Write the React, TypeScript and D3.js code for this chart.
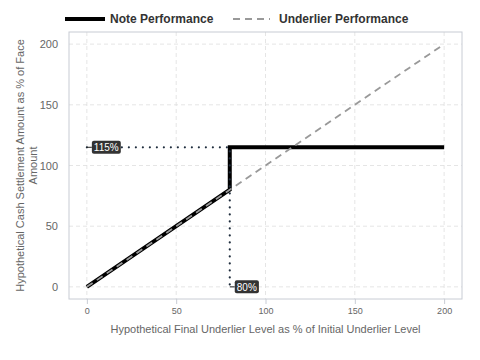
import * as d3 from "d3";
import { useEffect, useRef } from "react";

// payoff data (% of initial level -> % of face)
const noteX = [0, 80, 80, 200];
const noteY = [0, 80, 115, 115];
const underX = [0, 200];
const underY = [0, 200];
const xTicks = [0, 50, 100, 150, 200];
const yTicks = [0, 50, 100, 150, 200];
const capLevel = 115;
const barrier = 80;
const seriesNames = ["Note Performance", "Underlier Performance"];

const App = () => {
  const svgRef = useRef<SVGSVGElement>(null);

  const W = 480;
  const H = 360;
  const margin = { top: 32, right: 18, bottom: 61, left: 69 };
  const width = W - margin.left - margin.right;
  const height = H - margin.top - margin.bottom;

  useEffect(() => {
    const svg = d3.select(svgRef.current);
    svg.selectAll("*").remove();

    const font = "'Liberation Sans', Arial, sans-serif";

    const x = d3.scaleLinear().domain([-10, 210]).range([0, width]);
    const y = d3.scaleLinear().domain([-10, 210]).range([height, 0]);

    const chart = svg.append("g")
      .attr("transform", `translate(${margin.left},${margin.top})`);

    // сетка
    chart.selectAll(".vgrid")
      .data(xTicks)
      .enter()
      .append("line")
      .attr("x1", d => x(d)).attr("x2", d => x(d))
      .attr("y1", 0).attr("y2", height)
      .attr("stroke", "#dedede")
      .attr("stroke-dasharray", "4,3")
      .attr("stroke-width", 0.8);

    chart.selectAll(".hgrid")
      .data(yTicks)
      .enter()
      .append("line")
      .attr("x1", 0).attr("x2", width)
      .attr("y1", d => y(d)).attr("y2", d => y(d))
      .attr("stroke", "#dedede")
      .attr("stroke-dasharray", "4,3")
      .attr("stroke-width", 0.8);

    // рамка
    chart.append("rect")
      .attr("x", 0).attr("y", 0)
      .attr("width", width).attr("height", height)
      .attr("fill", "none")
      .attr("stroke", "#c8ccd4")
      .attr("stroke-width", 1);

    // ось x
    const xAxis = chart.append("g")
      .attr("transform", `translate(0,${height})`)
      .call(d3.axisBottom(x).tickValues(xTicks).tickSize(5).tickPadding(4));
    xAxis.select(".domain").remove();
    xAxis.selectAll("line").attr("stroke", "#c8ccd4");
    xAxis.selectAll("text")
      .style("font-size", "9px")
      .style("font-family", font)
      .style("fill", "#666");

    // ось y
    const yAxis = chart.append("g")
      .call(d3.axisLeft(y).tickValues(yTicks).tickSize(0).tickPadding(11));
    yAxis.select(".domain").remove();
    yAxis.selectAll("text")
      .style("font-size", "11px")
      .style("font-family", font)
      .style("fill", "#666");

    // подпись оси x
    chart.append("text")
      .attr("x", width / 2)
      .attr("y", height + 34)
      .attr("text-anchor", "middle")
      .style("font-size", "11px")
      .style("font-family", font)
      .style("fill", "#666")
      .text("Hypothetical Final Underlier Level as % of Initial Underlier Level");

    // подпись оси y
    const yTitle = chart.append("text")
      .attr("transform", `translate(${-45},${height / 2}) rotate(-90)`)
      .attr("text-anchor", "middle")
      .style("font-size", "11px")
      .style("font-family", font)
      .style("fill", "#666");
    yTitle.append("tspan").attr("x", 0).attr("dy", 0)
      .text("Hypothetical Cash Settlement Amount as % of Face");
    yTitle.append("tspan").attr("x", 0).attr("dy", 13).text("Amount");

    const line = d3.line<[number, number]>()
      .x(d => x(d[0]))
      .y(d => y(d[1]));

    const notePts = noteX.map((v, i) => [v, noteY[i]] as [number, number]);
    const underPts = underX.map((v, i) => [v, underY[i]] as [number, number]);

    // линия ноты
    chart.append("path")
      .attr("d", line(notePts))
      .attr("fill", "none")
      .attr("stroke", "#000")
      .attr("stroke-width", 4)
      .attr("stroke-linejoin", "miter");

    // линия базового актива
    chart.append("path")
      .attr("d", line(underPts))
      .attr("fill", "none")
      .attr("stroke", "#999")
      .attr("stroke-width", 1.8)
      .attr("stroke-dasharray", "7,5");

    // пунктирные направляющие
    chart.append("path")
      .attr("d", line([[0, capLevel], [barrier, capLevel], [barrier, 0]]))
      .attr("fill", "none")
      .attr("stroke", "#1f2d3d")
      .attr("stroke-width", 2.2)
      .attr("stroke-linecap", "round")
      .attr("stroke-dasharray", "0,7");

    // метки
    const labels = [
      { px: 0, py: capLevel, text: `${capLevel}%`, dx: 5, dy: 0 },
      { px: barrier, py: 0, text: `${barrier}%`, dx: 5, dy: 0 },
    ];
    labels.forEach(l => {
      const lx = x(l.px);
      const ly = y(l.py);
      chart.append("line")
        .attr("x1", lx).attr("x2", lx + l.dx)
        .attr("y1", ly).attr("y2", ly + l.dy)
        .attr("stroke", "#222")
        .attr("stroke-width", 1);
      const g = chart.append("g");
      const t = g.append("text")
        .attr("x", lx + l.dx + 2)
        .attr("y", ly + 4)
        .style("font-size", "10px")
        .style("font-family", font)
        .style("fill", "#fff")
        .text(l.text);
      const bb = (t.node() as SVGTextElement).getBBox();
      g.insert("rect", "text")
        .attr("x", bb.x - 2)
        .attr("y", ly - 6.5)
        .attr("width", bb.width + 4)
        .attr("height", 13)
        .attr("rx", 2)
        .attr("fill", "#333");
    });

    // легенда
    const legend = svg.append("g").attr("transform", "translate(0,19)");
    legend.append("line")
      .attr("x1", 65).attr("x2", 105)
      .attr("y1", 0).attr("y2", 0)
      .attr("stroke", "#000").attr("stroke-width", 4);
    legend.append("text")
      .attr("x", 110).attr("y", 4)
      .style("font-size", "12px").style("font-weight", "bold")
      .style("font-family", font).style("fill", "#333")
      .text(seriesNames[0]);
    legend.append("line")
      .attr("x1", 233).attr("x2", 270)
      .attr("y1", 0).attr("y2", 0)
      .attr("stroke", "#999").attr("stroke-width", 1.8)
      .attr("stroke-dasharray", "7,5");
    legend.append("text")
      .attr("x", 279).attr("y", 4)
      .style("font-size", "12px").style("font-weight", "bold")
      .style("font-family", font).style("fill", "#333")
      .text(seriesNames[1]);
  }, []);

  return (
    <svg ref={svgRef} width={W} height={H} style={{ display: "block", position: "absolute", left: 0, top: 0 }} />
  );
};

export default App;
